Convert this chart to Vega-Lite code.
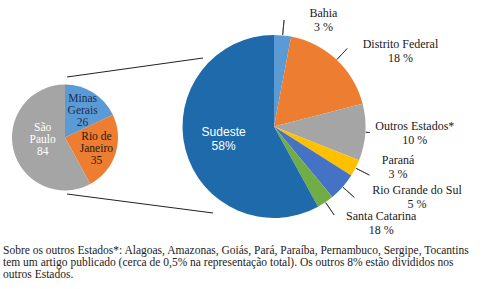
{
  "$schema": "https://vega.github.io/schema/vega-lite/v6.json",
  "width": 487,
  "height": 240,
  "padding": 0,
  "background": "white",
  "config": {"view": {"stroke": null}, "font": "Liberation Serif"},
  "title": {
    "text": [
      "Sobre os outros Estados*: Alagoas, Amazonas, Goiás, Pará, Paraíba, Pernambuco, Sergipe, Tocantins",
      "tem um artigo publicado (cerca de 0,5% na representação total). Os outros 8% estão divididos nos",
      "outros Estados."
    ],
    "orient": "bottom",
    "anchor": "start",
    "frame": "group",
    "font": "Liberation Serif",
    "fontSize": 11.5,
    "fontWeight": "normal",
    "color": "#222222",
    "lineHeight": 12,
    "offset": 5,
    "dx": 3
  },
  "datasets": {
    "sudeste": [
      {"estado": "Minas Gerais", "artigos": 26, "rotulo": "Minas\nGerais\n26"},
      {"estado": "Rio de Janeiro", "artigos": 35, "rotulo": "Rio de\nJaneiro\n35"},
      {"estado": "São Paulo", "artigos": 84, "rotulo": "São\nPaulo\n84"}
    ],
    "brasil": [
      {"regiao": "Bahia", "pct": 3, "rotulo": "Bahia\n3 %"},
      {"regiao": "Distrito Federal", "pct": 18, "rotulo": "Distrito Federal\n18 %"},
      {"regiao": "Outros Estados*", "pct": 10, "rotulo": "Outros Estados*\n10 %"},
      {"regiao": "Paraná", "pct": 3, "rotulo": "Paraná\n3 %"},
      {"regiao": "Rio Grande do Sul", "pct": 5, "rotulo": "Rio Grande do Sul\n5 %"},
      {"regiao": "Santa Catarina", "pct": 3, "rotulo": "Santa Catarina\n18 %"},
      {"regiao": "Sudeste", "pct": 58, "rotulo": "Sudeste\n58%"}
    ]
  },
  "layer": [
    {
      "data": {"name": "sudeste"},
      "transform": [{"window": [{"op": "row_number", "as": "ordem"}]}],
      "layer": [
        {
          "mark": {"type": "arc", "x": 65, "y": 137.5, "radius": 53},
          "encoding": {
            "theta": {"field": "artigos", "type": "quantitative", "stack": true},
            "order": {"field": "ordem", "type": "quantitative"},
            "color": {
              "field": "estado",
              "type": "nominal",
              "scale": {"domain": ["Minas Gerais", "Rio de Janeiro", "São Paulo"], "range": ["#5B9BD5", "#ED7D31", "#A5A5A5"]},
              "legend": null
            }
          }
        },
        {
          "mark": {
            "type": "text",
            "x": 65,
            "y": 137.5,
            "radius": {"expr": "datum.estado == 'São Paulo' ? 23 : 33"},
            "dy": {"expr": "datum.estado == 'São Paulo' ? -15 : -11"},
            "lineBreak": "\n",
            "font": "Liberation Serif",
            "fontSize": 11.5,
            "lineHeight": 12,
            "align": "center",
            "baseline": "middle"
          },
          "encoding": {
            "theta": {"field": "artigos", "type": "quantitative", "stack": true},
            "order": {"field": "ordem", "type": "quantitative"},
            "text": {"field": "rotulo", "type": "nominal"},
            "color": {
              "condition": [
                {"test": "datum.estado == 'São Paulo'", "value": "#ffffff"},
                {"test": "datum.estado == 'Minas Gerais'", "value": "#1c2b50"}
              ],
              "value": "#2a1a0c"
            }
          }
        }
      ]
    },
    {
      "data": {"name": "brasil"},
      "transform": [{"window": [{"op": "row_number", "as": "ordem"}]}],
      "layer": [
        {
          "mark": {"type": "arc", "x": 274, "y": 126.5, "radius": 91.5},
          "encoding": {
            "theta": {"field": "pct", "type": "quantitative", "stack": true},
            "order": {"field": "ordem", "type": "quantitative"},
            "color": {
              "field": "regiao",
              "type": "nominal",
              "scale": {
                "domain": ["Bahia", "Distrito Federal", "Outros Estados*", "Paraná", "Rio Grande do Sul", "Santa Catarina", "Sudeste"],
                "range": ["#5B9BD5", "#ED7D31", "#A5A5A5", "#FFC000", "#4472C4", "#70AD47", "#1f6aab"]
              },
              "legend": null
            }
          }
        },
        {
          "transform": [{"filter": "datum.regiao != 'Sudeste'"}],
          "mark": {
            "type": "arc",
            "x": 274,
            "y": 126.5,
            "radius": {"expr": "datum.regiao == 'Outros Estados*' ? 96 : 107"},
            "radius2": 92,
            "padAngle": 3.1,
            "fill": "transparent",
            "stroke": "#333333",
            "strokeWidth": 0.8
          },
          "encoding": {
            "theta": {"field": "pct", "type": "quantitative", "stack": true},
            "order": {"field": "ordem", "type": "quantitative"}
          }
        },
        {
          "mark": {
            "type": "text",
            "x": 274,
            "y": 126.5,
            "radius": {"expr": "datum.regiao == 'Sudeste' ? 52 : 100"},
            "dx": {"expr": "datum.regiao == 'Bahia' ? 40 : datum.regiao == 'Distrito Federal' ? 58 : datum.regiao == 'Outros Estados*' ? 41 : datum.regiao == 'Paraná' ? 35 : datum.regiao == 'Rio Grande do Sul' ? 68 : datum.regiao == 'Santa Catarina' ? 51 : 0"},
            "dy": {"expr": "datum.regiao == 'Bahia' ? -14 : datum.regiao == 'Distrito Federal' ? -10 : datum.regiao == 'Paraná' ? -12 : datum.regiao == 'Rio Grande do Sul' ? -3 : datum.regiao == 'Santa Catarina' ? 7 : -7"},
            "font": {"expr": "datum.regiao == 'Sudeste' ? 'Liberation Sans' : 'Liberation Serif'"},
            "lineBreak": "\n",
            "fontSize": 12,
            "lineHeight": 14,
            "align": "center",
            "baseline": "middle"
          },
          "encoding": {
            "theta": {"field": "pct", "type": "quantitative", "stack": true},
            "order": {"field": "ordem", "type": "quantitative"},
            "text": {"field": "rotulo", "type": "nominal"},
            "color": {
              "condition": {"test": "datum.regiao == 'Sudeste'", "value": "#ffffff"},
              "value": "#1a1a1a"
            }
          }
        }
      ]
    },
    {
      "data": {"values": [{}]},
      "mark": {"type": "rule", "stroke": "#222222", "strokeWidth": 1},
      "encoding": {
        "x": {"value": 67}, "y": {"value": 77},
        "x2": {"value": 203}, "y2": {"value": 58}
      }
    },
    {
      "data": {"values": [{}]},
      "mark": {"type": "rule", "stroke": "#222222", "strokeWidth": 1},
      "encoding": {
        "x": {"value": 67}, "y": {"value": 194},
        "x2": {"value": 213}, "y2": {"value": 213}
      }
    }
  ],
  "resolve": {"scale": {"theta": "independent", "color": "independent"}}
}
